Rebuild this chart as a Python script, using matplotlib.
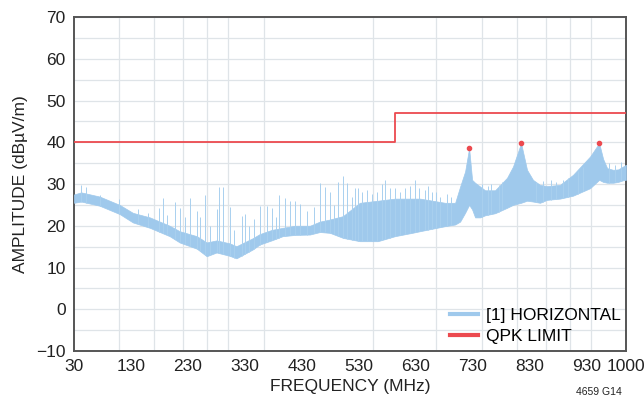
import matplotlib
matplotlib.use("Agg")
import matplotlib.pyplot as plt
import numpy as np
from matplotlib.ticker import FixedLocator, NullFormatter

# ------------------ data ------------------

# band of the measured trace: frequency (MHz), lower edge, upper edge (dBuV/m)
band_freq = [30, 31.4, 35.3, 40.1, 43.6, 48.6, 55.1, 58.7, 65.5, 69.7, 74.2, 80.6,
             84.2, 93.3, 97.6, 105.3, 112.9, 122.0, 134.3, 143.1, 152.5, 165.6,
             184.4, 206.7, 230.4, 257.0, 270.4, 316.8, 337.8, 348.7, 359.9, 369.2,
             376.3, 383.5, 395.9, 408.6, 435.4, 469.8, 488.0, 513.5, 533.4, 553.9,
             579.1, 605.4, 657.7, 714.3, 796.3, 843.3, 865.0, 887.3, 921.8, 951.5,
             982.2, 1000]
band_low = [25.5, 25.8, 24.8, 22.8, 20.8, 19.5, 17.5, 16.0, 14.5, 12.7, 13.6, 12.8,
            12.2, 14.3, 15.5, 16.5, 17.5, 17.8, 17.9, 18.5, 18.3, 17.1,
            16.3, 16.3, 17.5, 18.3, 18.7, 19.9, 20.3, 21.0, 23.1, 25.0,
            23.9, 22.0, 22.0, 22.5, 23.0, 24.3, 25.0, 25.5, 26.0, 25.8,
            25.5, 26.2, 26.5, 27.2, 29.0, 31.0, 30.5, 30.3, 30.3, 30.5,
            30.9, 31.0]
band_high = [27.5, 28.0, 27.0, 25.0, 23.1, 22.0, 20.0, 18.7, 17.5, 16.0, 16.5, 15.8,
             15.1, 17.0, 18.0, 19.0, 19.5, 20.0, 20.0, 21.0, 21.5, 22.3,
             25.5, 26.0, 26.5, 26.5, 26.5, 25.5, 25.5, 29.4, 33.0, 38.6,
             31.0, 30.3, 29.4, 28.5, 28.5, 31.5, 34.2, 39.8, 33.4, 31.0,
             29.8, 29.5, 29.8, 32.2, 36.6, 39.8, 36.0, 33.8, 33.4, 33.5,
             34.2, 34.6]

# single harmonic spikes sticking out of the band
spike_freq = [31.4, 32.4, 35.3, 40.0, 45.0, 48.0, 51.5, 52.7, 54.0, 56.9, 58.7, 60.7,
              62.7, 65.5, 66.6, 68.8, 71.0, 74.2, 75.6, 77.1, 80.6, 83.0, 87.0, 88.7,
              91.0, 94.0, 97.6, 102.0, 105.3, 108.0, 110.1, 114.4, 118.1, 122.0,
              126.0, 131.7, 138.0, 143.1, 147.7, 152.5, 156.0, 160.4, 165.6, 169.8,
              175.0, 178.6, 182.0, 186.7, 192.8, 199.0, 205.0, 212.0, 216.1, 223.3,
              230.0, 238.2, 245.8, 253.9, 261.9, 268.0, 279.5, 285.0, 291.5, 300.0,
              307.1, 320.0, 330.0, 400.0, 415.0, 425.0, 445.0, 455.0, 565.0, 590.0,
              620.0, 640.0, 670.0, 690.0, 735.0, 760.0, 900.0, 935.0, 970.0]
spike_top = [29.8, 29.4, 27.4, 26.5, 24.0, 23.0, 24.3, 26.6, 22.5, 25.8, 24.3, 22.0,
             26.6, 23.5, 22.0, 27.4, 20.0, 23.9, 29.4, 29.3, 24.6, 19.0, 22.3, 22.7,
             20.0, 21.5, 24.7, 24.8, 24.3, 22.0, 27.4, 26.7, 25.9, 25.9,
             25.1, 23.5, 24.5, 30.2, 29.4, 28.2, 25.0, 30.6, 31.8, 30.2,
             27.0, 29.0, 29.0, 28.0, 28.5, 27.5, 28.0, 30.0, 31.0, 29.0,
             29.0, 28.0, 29.0, 29.5, 31.0, 29.0, 28.5, 29.5, 28.2, 28.0,
             27.0, 27.5, 27.0, 30.0, 29.5, 30.0, 29.8, 30.5, 30.5, 30.8,
             31.0, 30.5, 31.0, 31.5, 33.0, 34.0, 35.0, 34.5, 35.2]

# quasi-peak markers
peak_freq = [369.2, 513.5, 843.3]
peak_amp = [38.6, 39.8, 39.8]

# QPK limit
limit_freq = [30, 230, 1000]
limit_amp = [40, 47, 47]

# axis labels: printed linearly, grid is the analyzer's log grid
tick_labels = [30, 130, 230, 330, 430, 530, 630, 730, 830, 930, 1000]
grid_freq = [40, 50, 60, 70, 80, 100, 200, 300, 400, 500, 600, 700, 800]

# ------------------ plot ------------------

plt.rcParams['font.family'] = ['Liberation Sans Narrow', 'Liberation Sans', 'DejaVu Sans']

blue = "#9fc9ec"
spike_blue = "#a9d0ef"
red = "#ec4a4f"

fig = plt.figure(figsize=(6.44, 4.03), dpi=100)
ax = fig.add_axes([0.1149, 0.129, 0.8571, 0.8288])
ax.set_xscale("log")

ax.fill_between(band_freq, band_low, band_high, color=blue, lw=0.5, zorder=3)

# spikes start from the band's lower edge
spike_base = np.interp(np.log(spike_freq), np.log(band_freq), band_low)
ax.vlines(spike_freq, spike_base, spike_top, color=spike_blue, lw=0.7, zorder=3)

ax.plot(limit_freq, limit_amp, drawstyle="steps-post", color=red, lw=1.3, zorder=4)
ax.plot(peak_freq, peak_amp, ls="none", marker="o", ms=3, color=red, zorder=5)

# legend proxies
ax.plot([], [], color=blue, lw=3, label="[1] HORIZONTAL")
ax.plot([], [], color=red, lw=3, label="QPK LIMIT")

ax.set_xlim(30, 1000)
ax.set_ylim(-10, 70)

# linear label positions mapped onto the log axis
tick_pos = [30 * (1000 / 30) ** ((v - 30) / 970) for v in tick_labels]
ax.xaxis.set_major_locator(FixedLocator(tick_pos))
ax.set_xticklabels([str(v) for v in tick_labels])
ax.xaxis.set_minor_locator(FixedLocator(grid_freq))
ax.xaxis.set_minor_formatter(NullFormatter())
ax.set_yticks(range(-10, 71, 10))
ax.set_yticklabels(["\u221210"] + [str(v) for v in range(0, 71, 10)])
ax.set_yticks(range(-5, 70, 10), minor=True)

ax.grid(False)
ax.grid(which="minor", axis="x", color="#dfe4e8", lw=0.9)
ax.grid(which="both", axis="y", color="#dfe4e8", lw=0.9)
ax.set_axisbelow(True)
ax.tick_params(which="both", length=0, labelsize=12.5, colors="#222222", pad=6)

for s in ax.spines.values():
    s.set_color("#555555")
    s.set_linewidth(1.4)

ax.set_xlabel("FREQUENCY (MHz)", fontsize=12.5, color="#222222", labelpad=3)
ax.set_ylabel("AMPLITUDE (dB\u00b5V/m)", fontsize=12.5, color="#222222", labelpad=6)

ax.legend(loc="lower right", bbox_to_anchor=(1.01, -0.01), frameon=False, fontsize=12.5,
          handlelength=1.6, handletextpad=0.5, labelspacing=0.35, borderaxespad=0.2)

fig.text(0.93, 0.02, "4659 G14", fontsize=7.5, color="#222222", ha="center")

fig.savefig("out.png", dpi=100)
